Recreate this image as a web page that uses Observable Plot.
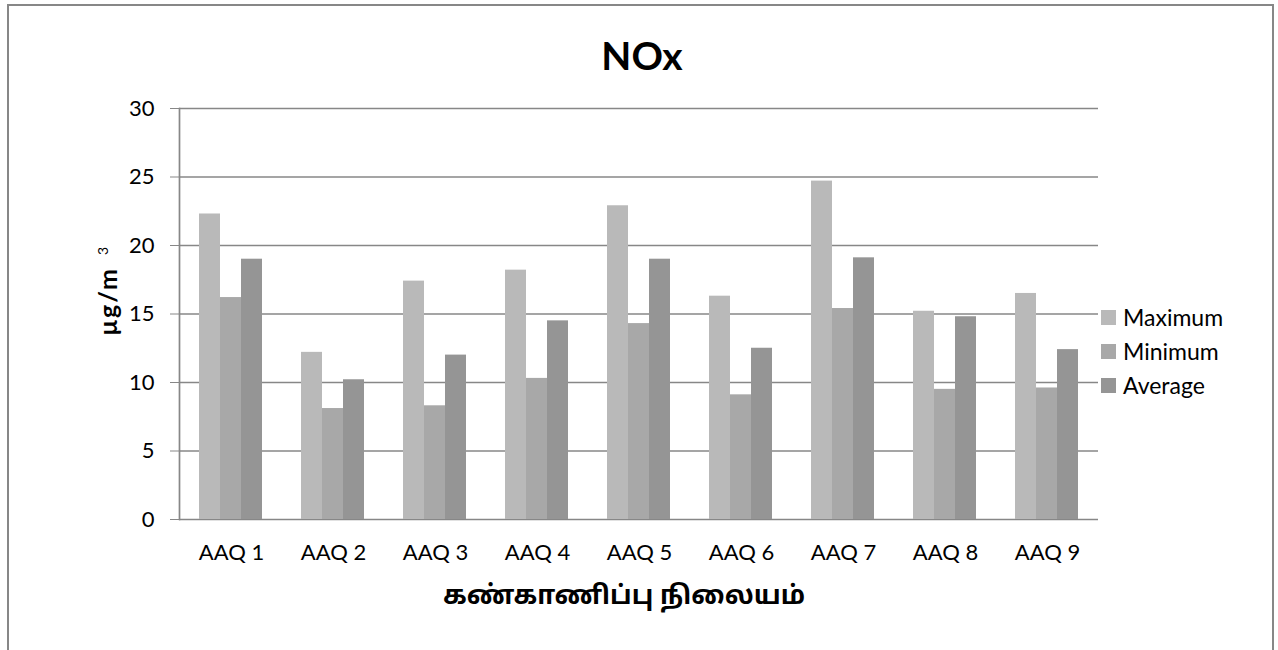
<!DOCTYPE html>
<html>
<head>
<meta charset="utf-8">
<script src="https://cdn.jsdelivr.net/npm/d3@7"></script>
<script src="https://cdn.jsdelivr.net/npm/@observablehq/plot@0.6"></script>
<style>
  html, body { margin: 0; padding: 0; background: #fff; }
  #wrap { position: relative; width: 1278px; height: 650px; overflow: hidden; background: #fff; font-family: Lato, "Open Sans", sans-serif; }
  #border { position: absolute; left: 7px; top: 4px; width: 1263px; height: 700px; border: 2px solid #878787; border-bottom: none; }
  .layer { position: absolute; left: 0; top: 0; }
  .layer svg { overflow: visible; }
  .bg text { fill: #000; }
  #title { position: absolute; left: 0; width: 1284px; top: 36px; text-align: center; font: bold 39px Lato, sans-serif; line-height: 1; color: #000; }
  #ylabel { position: absolute; left: 107px; top: 290px; transform: translate(-50%, -50%) rotate(-90deg); font: bold 25px Lato, sans-serif; letter-spacing: 2px; white-space: nowrap; color: #000; }
  #ylabel sup { font-size: 14px; font-weight: normal; margin-left: 12px; }
  #xlabel { position: absolute; left: 624px; top: 597px; transform: translate(-50%, -50%); font: bold 26px "Noto Sans Tamil", "Lohit Tamil", "Noto Sans", sans-serif; white-space: nowrap; color: #000; }
  #legend { position: absolute; left: 1101px; top: 300px; font: 23px Lato, sans-serif; color: #000; }
  .lrow { display: flex; align-items: center; height: 34px; }
  .lsw { width: 15px; height: 15px; margin-right: 7px; }
</style>
</head>
<body>
<div id="wrap">
  <div id="border"></div>
  <div id="bgLayer" class="layer bg"></div>
  <div id="fgLayer" class="layer"></div>
  <div id="title">NOx</div>
  <div id="ylabel">μg/m<sup>3</sup></div>
  <div id="xlabel">கண்காணிப்பு நிலையம்</div>
  <div id="legend"></div>
</div>
<script>
const stations = ["AAQ 1", "AAQ 2", "AAQ 3", "AAQ 4", "AAQ 5", "AAQ 6", "AAQ 7", "AAQ 8", "AAQ 9"];
const series = ["Maximum", "Minimum", "Average"];
const maximum = [22.3, 12.2, 17.4, 18.2, 22.9, 16.3, 24.7, 15.2, 16.5];
const minimum = [16.2, 8.1, 8.3, 10.3, 14.3, 9.1, 15.4, 9.5, 9.6];
const average = [19.0, 10.2, 12.0, 14.5, 19.0, 12.5, 19.1, 14.8, 12.4];
const yTicks = [0, 5, 10, 15, 20, 25, 30];
const colors = ["#b9b9b9", "#a8a8a8", "#959595"];

const valuesBySeries = [maximum, minimum, average];
const data = [];
stations.forEach((s, i) => {
  series.forEach((k, j) => data.push({station: s, series: k, value: valuesBySeries[j][i]}));
});

const W = 1278, H = 600;
const M = {marginTop: 108, marginBottom: 81, marginLeft: 179, marginRight: 180};

const bg = Plot.plot({
  width: W, height: H, ...M,
  style: {fontFamily: "Lato, sans-serif", fontSize: "22px", color: "#878787", background: "transparent", overflow: "visible"},
  x: {type: "band", domain: stations, padding: 0, label: null, tickSize: 0, tickPadding: 25},
  y: {domain: [0, 30], ticks: yTicks, label: null, tickSize: 9, tickPadding: 16},
  marks: [
    Plot.ruleY(yTicks, {stroke: "#878787", strokeWidth: 1.7}),
    Plot.frame({anchor: "left", stroke: "#878787", strokeWidth: 1.7})
  ]
});
document.getElementById("bgLayer").appendChild(bg);

const fg = Plot.plot({
  width: W, height: H, ...M,
  style: {background: "transparent", overflow: "visible"},
  facet: {data: data, x: "station"},
  fx: {domain: stations, paddingInner: 0.36, paddingOuter: 0.18, axis: null, label: null},
  x: {domain: series, padding: 0, axis: null},
  y: {domain: [0, 30], axis: null},
  color: {domain: series, range: colors},
  marks: [
    Plot.barY(data, {x: "series", y: "value", fill: "series"})
  ]
});
document.getElementById("fgLayer").appendChild(fg);

const legend = document.getElementById("legend");
series.forEach((s, i) => {
  const row = document.createElement("div");
  row.className = "lrow";
  const sw = document.createElement("div");
  sw.className = "lsw";
  sw.style.background = colors[i];
  const t = document.createElement("span");
  t.textContent = s;
  row.appendChild(sw); row.appendChild(t);
  legend.appendChild(row);
});
</script>
</body>
</html>
